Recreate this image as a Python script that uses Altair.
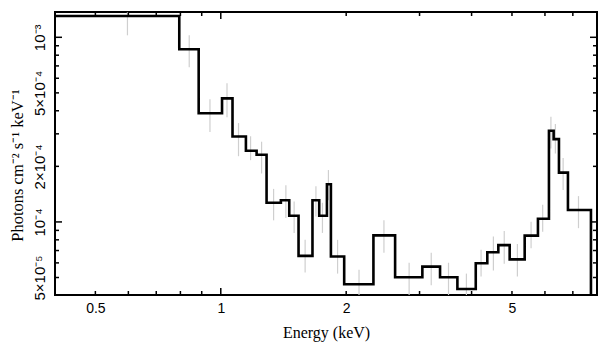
import altair as alt
import pandas as pd

# Bin edges (keV) and model/step values (photons cm^-2 s^-1 keV^-1)
edges = [0.40, 0.795, 0.885, 1.007, 1.067, 1.149, 1.219, 1.288, 1.394, 1.460,
         1.537, 1.660, 1.723, 1.798, 1.838, 1.978, 2.325, 2.621, 3.047, 3.360,
         3.698, 4.093, 4.363, 4.637, 4.937, 5.364, 5.772, 6.134, 6.295, 6.483,
         6.813, 7.737]
flux = [1.304e-3, 8.61e-4, 3.88e-4, 4.67e-4, 2.90e-4, 2.43e-4, 2.31e-4, 1.27e-4,
        1.31e-4, 1.08e-4, 6.55e-5, 1.31e-4, 1.08e-4, 1.60e-4, 6.50e-5, 4.60e-5,
        8.46e-5, 5.02e-5, 5.73e-5, 5.02e-5, 4.33e-5, 5.97e-5, 6.85e-5, 7.49e-5,
        6.27e-5, 8.43e-5, 1.04e-4, 3.12e-4, 2.81e-4, 1.85e-4, 1.16e-4]

# Data error bars (grey)
err_e = [0.597, 0.840, 0.942, 1.035, 1.103, 1.179, 1.253, 1.339, 1.433, 1.500,
         1.594, 1.692, 1.754, 1.813, 1.907, 2.147, 2.464, 2.832, 3.200, 3.521,
         3.887, 4.215, 4.512, 4.791, 5.152, 5.557, 5.925, 6.201, 6.356, 6.634,
         7.222]
err_hi = [2.0e-3, 1.025e-3, 4.62e-4, 5.64e-4, 3.43e-4, 2.91e-4, 2.72e-4, 1.51e-4,
          1.58e-4, 1.29e-4, 8.0e-5, 1.56e-4, 1.27e-4, 1.91e-4, 8.0e-5, 5.51e-5,
          1.02e-4, 6.01e-5, 6.81e-5, 6.01e-5, 5.25e-5, 7.06e-5, 8.33e-5, 8.93e-5,
          7.60e-5, 1.003e-4, 1.24e-4, 3.71e-4, 3.39e-4, 2.22e-4, 1.38e-4]
err_lo = [1.025e-3, 6.88e-4, 3.07e-4, 3.69e-4, 2.27e-4, 2.16e-4, 1.83e-4, 1.02e-4,
          1.05e-4, 8.72e-5, 5.32e-5, 1.07e-4, 8.72e-5, 1.31e-4, 5.25e-5, 3.5e-5,
          6.81e-5, 3.5e-5, 4.54e-5, 3.5e-5, 3.5e-5, 5.07e-5, 5.46e-5, 5.93e-5,
          5.07e-5, 7.21e-5, 8.86e-5, 2.50e-4, 2.35e-4, 1.49e-4, 9.25e-5]

x_labels = [0.5, 1, 2, 5]
x_major = [1]
x_minor = [0.5, 0.6, 0.7, 0.8, 0.9, 2, 3, 4, 5, 6, 7]
y_labels = [1e-3, 5e-4, 2e-4, 1e-4, 5e-5]
y_label_text = ["10⁻³", "5×10⁻⁴", "2×10⁻⁴", "10⁻⁴", "5×10⁻⁵"]
y_major = [1e-3, 1e-4]
y_minor = [9e-4, 8e-4, 7e-4, 6e-4, 5e-4, 4e-4, 3e-4, 2e-4,
           9e-5, 8e-5, 7e-5, 6e-5, 5e-5]

X_DOMAIN = [0.4, 8.0]
Y_DOMAIN = [4.02e-5, 1.371e-3]
W, H = 542, 283
X_TITLE = "Energy (keV)"
Y_TITLE = "Photons cm⁻² s⁻¹ keV⁻¹"

# step data
step_rows = [{"E": edges[i], "F": flux[i]} for i in range(len(flux))]
step_rows.append({"E": edges[-1], "F": flux[-1]})
step_rows.append({"E": edges[-1], "F": 1e-6})
step_df = pd.DataFrame(step_rows)
step_df["idx"] = range(len(step_df))
err_df = pd.DataFrame({"E": err_e, "lo": err_lo, "hi": err_hi})

xscale = alt.Scale(type="log", domain=X_DOMAIN, nice=False)
yscale = alt.Scale(type="log", domain=Y_DOMAIN, nice=False)

expr_parts = []
for v, t in zip(y_labels, y_label_text):
    expr_parts.append(f"abs(datum.value - {v!r}) < {v * 1e-3!r} ? '{t}' : ")
y_label_expr = "".join(expr_parts) + "''"

x_axis = alt.Axis(values=x_labels, format="~g", tickSize=0, domain=False,
                  grid=False, labelFont="Liberation Sans", labelFontSize=14,
                  labelPadding=6, labelColor="black",
                  titleFont="Liberation Serif", titleFontSize=16,
                  titleFontWeight="normal", titleColor="black",
                  titleBaseline="middle", titleY=37)
y_axis = alt.Axis(values=y_labels, labelExpr=y_label_expr, tickSize=0,
                  domain=False, grid=False, labelAngle=270,
                  labelAlign="center", labelBaseline="bottom",
                  labelFont="Liberation Sans", labelFontSize=15,
                  labelPadding=8, labelColor="black",
                  titleFont="Liberation Serif", titleFontSize=16.5,
                  titleFontWeight="normal", titleColor="black",
                  titleAngle=270, titleAlign="center",
                  titleBaseline="middle", titleX=-38, titleY=153)


def X(field):
    return alt.X(field, scale=xscale, axis=x_axis, title=X_TITLE)


def Y(field):
    return alt.Y(field, scale=yscale, axis=y_axis, title=Y_TITLE)


errs = alt.Chart(err_df).mark_rule(color="#cfcfcf", strokeWidth=1.2, clip=True).encode(
    x=X("E:Q"), y=Y("lo:Q"), y2="hi:Q",
)

step = alt.Chart(step_df).mark_line(
    color="black", strokeWidth=2.6, interpolate="step-after", clip=True
).encode(
    x=X("E:Q"), y=Y("F:Q"), order=alt.Order("idx:Q"),
)


def xticks(vals, length, top):
    df = pd.DataFrame({"E": vals})
    if top:
        yv, y2v = alt.value(0), alt.value(length)
    else:
        yv, y2v = alt.value(H), alt.value(H - length)
    return alt.Chart(df).mark_rule(color="black", strokeWidth=1.5).encode(
        x=X("E:Q"), y=yv, y2=y2v)


def yticks(vals, length, right):
    df = pd.DataFrame({"F": vals})
    if right:
        xv, x2v = alt.value(W), alt.value(W - length)
    else:
        xv, x2v = alt.value(0), alt.value(length)
    return alt.Chart(df).mark_rule(color="black", strokeWidth=1.5).encode(
        y=Y("F:Q"), x=xv, x2=x2v)


layers = [errs, step]
for top in (False, True):
    layers.append(xticks(x_major, 7, top))
    layers.append(xticks(x_minor, 4, top))
for right in (False, True):
    layers.append(yticks(y_major, 7, right))
    layers.append(yticks(y_minor, 4, right))

chart = alt.layer(*layers).properties(
    width=W, height=H,
    autosize=alt.AutoSizeParams(type="none"),
    padding={"left": 55, "top": 12, "right": 11, "bottom": 62},
    background="white",
).configure_view(stroke="black", strokeWidth=2)

chart.save("out.html", embed_options={"renderer": "svg", "actions": False})
